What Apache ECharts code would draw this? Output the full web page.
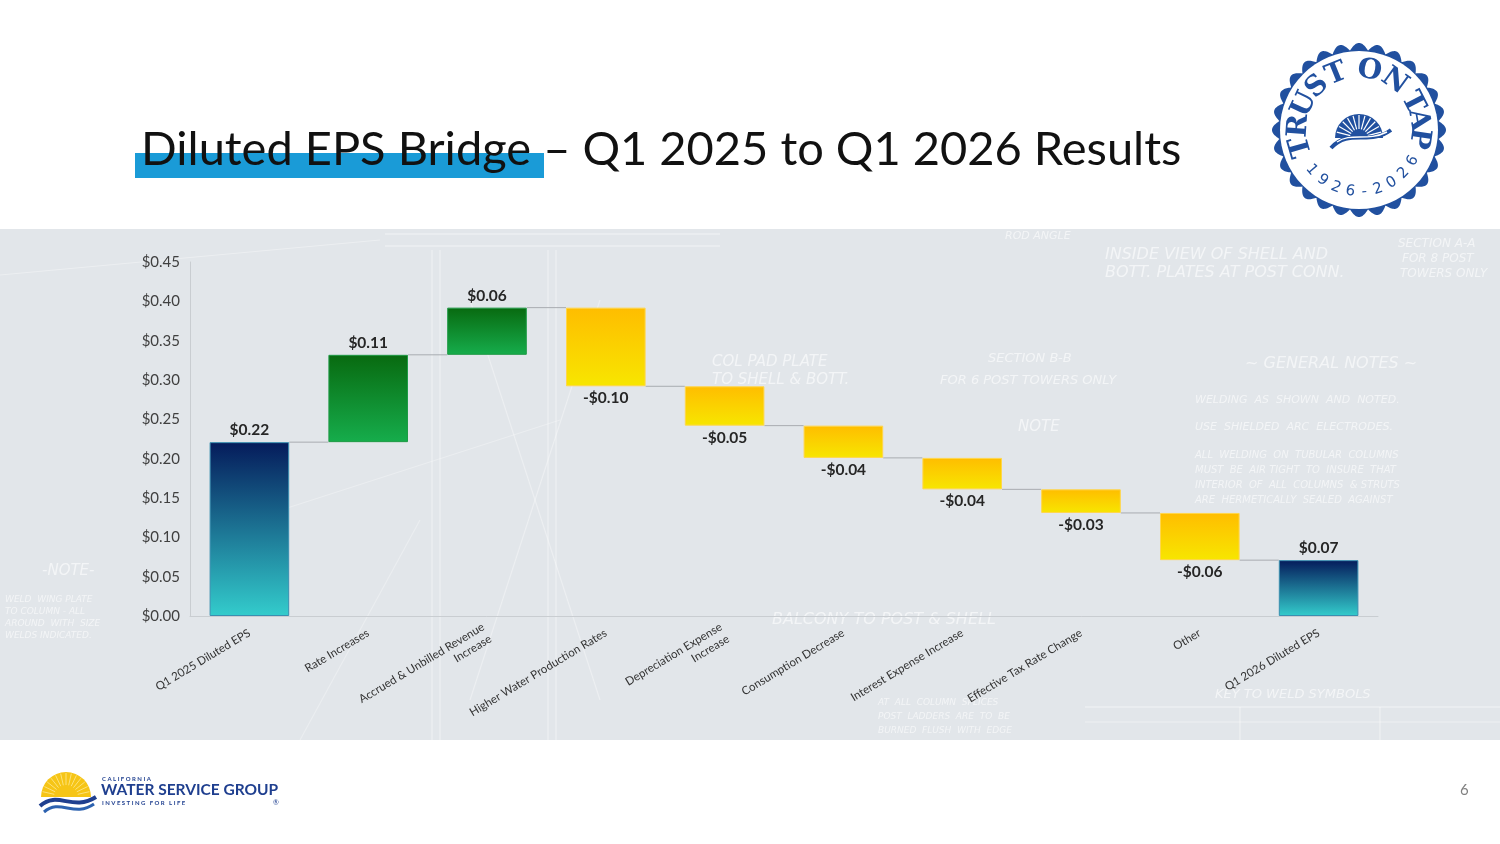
<!DOCTYPE html>
<html><head><meta charset="utf-8">
<script src="https://cdn.jsdelivr.net/npm/echarts@6/dist/echarts.min.js"></script>
<style>html,body{margin:0;padding:0;background:#fff}#c{width:1500px;height:844px}</style>
</head><body><div id="c"></div>
<script>
// ---------- data ----------
const categories = [
  'Q1 2025 Diluted EPS',
  'Rate Increases',
  'Accrued & Unbilled Revenue\nIncrease',
  'Higher Water Production Rates',
  'Depreciation Expense\nIncrease',
  'Consumption Decrease',
  'Interest Expense Increase',
  'Effective Tax Rate Change',
  'Other',
  'Q1 2026 Diluted EPS'
];
const startValue = 0.221;
const changes = [0.111, 0.060, -0.100, -0.050, -0.041, -0.040, -0.030, -0.060];
const endValue = 0.071;
const yMin = 0, yMax = 0.45, yStep = 0.05;

// ---------- derived waterfall ----------
const kinds = [], bases = [], heights = [], signed = [], levels = [];
let cum = startValue;
kinds.push('total'); bases.push(0); heights.push(startValue); signed.push(startValue); levels.push(cum);
changes.forEach(d => {
  if (d >= 0) { kinds.push('up'); bases.push(cum); heights.push(d); cum += d; }
  else { cum += d; kinds.push('down'); bases.push(cum); heights.push(-d); }
  signed.push(d); levels.push(cum);
});
kinds.push('total'); bases.push(0); heights.push(endValue); signed.push(endValue);

const fmt = v => (v < 0 ? '-$' : '$') + Math.abs(v).toFixed(2);
const grad = (a, b) => ({type:'linear', x:0, y:0, x2:0, y2:1, colorStops:[{offset:0,color:a},{offset:1,color:b}]});
const fills = {
  total: grad('#051b5b', '#33cccc'),
  up: grad('#086a10', '#16ad4c'),
  down: grad('#ffbd00', '#f7e600')
};
const borders = {total:'#3a8fb0', up:'#1f9a45', down:'#ffd64a'};

const valueData = heights.map((h, i) => ({
  value: h,
  itemStyle: {color: fills[kinds[i]], borderColor: borders[kinds[i]], borderWidth: 1},
  label: {position: kinds[i] === 'down' ? 'bottom' : 'top'}
}));
const connectorData = levels.map((lv, i) => [i, lv]);

// ---------- decorations ----------
const FONT = 'Lato, "Open Sans", sans-serif';
const BLUE = '#21509f';
const sealCx = 1359, sealCy = 130;
function scallop(cx, cy, r0, amp, n) {
  const pts = [];
  for (let k = 0; k < 720; k++) {
    const t = k / 720 * Math.PI * 2;
    const r = r0 + amp * Math.abs(Math.cos(n * t / 2));
    pts.push([cx + r * Math.cos(t), cy + r * Math.sin(t)]);
  }
  return pts;
}
function arcLetters(chars, angles, cx, cy, r, outward, font) {
  return chars.map((ch, k) => {
    const phi = angles[k] * Math.PI / 180;
    const rot = outward ? (1.5 * Math.PI - phi) : (0.5 * Math.PI - phi);
    return {type:'text', x: cx + r * Math.cos(phi), y: cy + r * Math.sin(phi), rotation: rot,
      style:{text: ch, font: font, fill: BLUE, align:'center', verticalAlign:'middle'}, z: 20};
  });
}
const sealTop = ['T','R','U','S','T','O','N','T','A','P'];
const sealTopAng = [164, 184, 205, 226, 248, 280, 306, 333, 350, 368];
const sealBot = ['1','9','2','6','-','2','0','2','6'];
const sealBotAng = [140, 126, 112, 98, 85, 72, 58, 44, 30];
const rays = [];
for (let k = 1; k < 12; k++) {
  const t = Math.PI + k * Math.PI / 12;
  rays.push({type:'line', shape:{x1: sealCx + 9 * Math.cos(t), y1: sealCy + 8 + 9 * Math.sin(t), x2: sealCx + 23 * Math.cos(t), y2: sealCy + 8 + 23 * Math.sin(t)}, style:{stroke:'#fff', lineWidth:1.2}, z: 22});
}
const footRays = [];
for (let k = 1; k < 14; k++) {
  const t = Math.PI + k * Math.PI / 14;
  footRays.push({type:'line', shape:{x1: 66 + 12 * Math.cos(t), y1: 797 + 12 * Math.sin(t), x2: 66 + 24 * Math.cos(t), y2: 797 + 24 * Math.sin(t)}, style:{stroke:'#fde27a', lineWidth:1}, z: 22});
}
const bpText = (t, x, y, size, op) => ({type:'text', x, y, style:{text:t, font:'italic ' + size + 'px "DejaVu Sans"', fill:'rgba(255,255,255,' + (op || 0.6) + ')'}, z:-5, silent:true});
const bpLine = (x1, y1, x2, y2, op) => ({type:'line', shape:{x1,y1,x2,y2}, style:{stroke:'rgba(255,255,255,' + (op || 0.55) + ')', lineWidth:1.2}, z:-5, silent:true});

const graphics = [
  // blueprint background band
  {type:'rect', shape:{x:0, y:229, width:1500, height:511}, style:{fill:'#e2e6ea'}, z:-10, silent:true},
  bpText('INSIDE VIEW OF SHELL AND', 1105, 247, 16), bpText('BOTT. PLATES AT POST CONN.', 1105, 265, 16),
  bpText('SECTION A-A', 1398, 238, 12), bpText('FOR 8 POST', 1402, 253, 12), bpText('TOWERS ONLY', 1400, 268, 12),
  bpText('COL PAD PLATE', 712, 355, 15), bpText('TO SHELL & BOTT.', 712, 373, 15),
  bpText('SECTION B-B', 988, 352, 13), bpText('FOR 6 POST TOWERS ONLY', 940, 374, 13),
  bpText('~ GENERAL NOTES ~', 1245, 356, 16),
  bpText('WELDING  AS  SHOWN  AND  NOTED.', 1195, 395, 11), bpText('USE  SHIELDED  ARC  ELECTRODES.', 1195, 422, 11),
  bpText('ALL  WELDING  ON  TUBULAR  COLUMNS', 1195, 450, 10), bpText('MUST  BE  AIR TIGHT  TO  INSURE  THAT', 1195, 465, 10),
  bpText('INTERIOR  OF  ALL  COLUMNS  & STRUTS', 1195, 480, 10), bpText('ARE  HERMETICALLY  SEALED  AGAINST', 1195, 495, 10),
  bpText('NOTE', 1018, 420, 15),
  bpText('-NOTE-', 42, 564, 15),
  bpText('WELD  WING PLATE', 5, 595, 9), bpText('TO COLUMN - ALL', 5, 607, 9), bpText('AROUND  WITH  SIZE', 5, 619, 9), bpText('WELDS INDICATED.', 5, 631, 9),
  bpText('BALCONY TO POST & SHELL', 772, 612, 16),
  bpText('KEY TO WELD SYMBOLS', 1215, 688, 13),
  bpText('ROD ANGLE', 1005, 231, 11),
  bpText('AT  ALL  COLUMN  SPLICES', 878, 698, 9), bpText('POST  LADDERS  ARE  TO  BE', 878, 712, 9), bpText('BURNED  FLUSH  WITH  EDGE', 878, 726, 9),
  bpLine(1085, 707, 1500, 707), bpLine(1085, 722, 1500, 722, 0.45), bpLine(1240, 707, 1240, 740, 0.45), bpLine(1380, 707, 1380, 740, 0.45),
  bpLine(385, 234, 720, 234), bpLine(385, 246, 720, 246),
  bpLine(432, 250, 432, 740, 0.4), bpLine(440, 250, 440, 740, 0.4), bpLine(548, 250, 548, 740, 0.4), bpLine(556, 250, 556, 740, 0.4),
  bpLine(470, 300, 600, 700, 0.35), bpLine(600, 300, 470, 700, 0.35), bpLine(250, 520, 560, 420, 0.3),
  bpLine(0, 275, 380, 240, 0.35), bpLine(300, 740, 420, 520, 0.3),
  // title
  {type:'rect', shape:{x:135, y:153, width:409, height:25}, style:{fill:'#1a9bd7'}, z:1},
  {type:'text', x:141, y:150, style:{text:'Diluted EPS Bridge \u2013 Q1 2025 to Q1 2026 Results', font:'47px ' + FONT, fill:'#111', verticalAlign:'middle'}, z:2},
  // seal
  {type:'polygon', shape:{points: scallop(sealCx, sealCy, 80, 7, 28)}, style:{fill:BLUE}, z:15},
  {type:'circle', shape:{cx:sealCx, cy:sealCy, r:79}, style:{fill:'#fff'}, z:16},
  ...arcLetters(sealTop, sealTopAng, sealCx, sealCy, 60, true, 'bold 28px "DejaVu Serif", serif'),
  ...arcLetters(sealBot, sealBotAng, sealCx, sealCy, 62, false, '15px "DejaVu Sans", sans-serif'),
  {type:'sector', shape:{cx:sealCx, cy:sealCy + 8, r:24, r0:0, startAngle:Math.PI, endAngle:Math.PI * 2, clockwise:true}, style:{fill:BLUE}, z:21},
  ...rays,
  {type:'bezierCurve', shape:{x1:sealCx - 28, y1:sealCy + 18, cpx1:sealCx - 10, cpy1:sealCy - 2, cpx2:sealCx + 10, cpy2:sealCy + 16, x2:sealCx + 32, y2:sealCy}, style:{stroke:BLUE, lineWidth:4, fill:'none'}, z:23},
  {type:'bezierCurve', shape:{x1:sealCx - 22, y1:sealCy + 12, cpx1:sealCx - 8, cpy1:sealCy + 2, cpx2:sealCx + 8, cpy2:sealCy + 12, x2:sealCx + 28, y2:sealCy + 2}, style:{stroke:'#fff', lineWidth:1.5, fill:'none'}, z:24},
  // footer logo
  {type:'sector', shape:{cx:66, cy:797, r:25, r0:0, startAngle:Math.PI, endAngle:Math.PI * 2, clockwise:true}, style:{fill:'#f6c516'}, z:21},
  ...footRays,
  {type:'bezierCurve', shape:{x1:40, y1:806, cpx1:58, cpy1:790, cpx2:72, cpy2:812, x2:96, y2:797}, style:{stroke:'#1f3f8f', lineWidth:4, fill:'none'}, z:23},
  {type:'bezierCurve', shape:{x1:44, y1:812, cpx1:60, cpy1:798, cpx2:74, cpy2:818, x2:94, y2:804}, style:{stroke:'#2d62b0', lineWidth:3, fill:'none'}, z:23},
  {type:'text', x:102, y:779, style:{text:'C A L I F O R N I A', font:'bold 6px ' + FONT, fill:'#1f3f8f', verticalAlign:'middle'}, z:5},
  {type:'text', x:101, y:790, style:{text:'WATER SERVICE GROUP', font:'bold 15.5px ' + FONT, fill:'#1f3f8f', verticalAlign:'middle'}, z:5},
  {type:'text', x:102, y:803, style:{text:'I N V E S T I N G   F O R   L I F E', font:'bold 6px ' + FONT, fill:'#1f3f8f', verticalAlign:'middle'}, z:5},
  {type:'text', x:273, y:803, style:{text:'\u00ae', font:'7px ' + FONT, fill:'#1f3f8f', verticalAlign:'middle'}, z:5},
  // page number
  {type:'text', x:1460, y:790, style:{text:'6', font:'15px ' + FONT, fill:'#808080', verticalAlign:'middle'}, z:5}
];

// ---------- chart ----------
const chart = echarts.init(document.getElementById('c'), null, {width:1500, height:844});
chart.setOption({
  backgroundColor:'#ffffff',
  animation:false,
  graphic: graphics,
  grid:{left:190, right:122, top:262, bottom:228, containLabel:false},
  xAxis:{
    type:'category', data:categories,
    axisLine:{show:true, lineStyle:{color:'#c9cdd1', width:1}},
    axisTick:{show:false},
    axisLabel:{interval:0, rotate:31, margin:16, fontSize:11.5, color:'#333', fontFamily:FONT, lineHeight:14}
  },
  yAxis:{
    type:'value', min:yMin, max:yMax, interval:yStep,
    axisLine:{show:true, lineStyle:{color:'#c9cdd1', width:1}},
    axisTick:{show:false},
    splitLine:{show:false},
    axisLabel:{formatter: v => '$' + v.toFixed(2), fontSize:15, color:'#404040', fontFamily:FONT, margin:10}
  },
  series:[
    {name:'base', type:'bar', stack:'w', data:bases, barWidth:'67%', itemStyle:{color:'transparent'}, silent:true, z:2},
    {name:'value', type:'bar', stack:'w', data:valueData, barWidth:'67%', z:3,
      label:{show:true, formatter: p => fmt(signed[p.dataIndex]), fontSize:15.5, fontWeight:'bold', color:'#262626', fontFamily:FONT, distance:4}},
    {name:'connector', type:'custom', data:connectorData, encode:{x:0, y:1}, z:1, silent:true,
      renderItem: (params, api) => {
        const p = api.coord([api.value(0), api.value(1)]);
        const w = api.size([1, 0])[0];
        const bw = w * 0.67;
        return {type:'line', shape:{x1:p[0] + bw / 2, y1:p[1], x2:p[0] + w - bw / 2, y2:p[1]}, style:{stroke:'#a8acb0', lineWidth:1}};
      }}
  ]
});
</script>
</body></html>
